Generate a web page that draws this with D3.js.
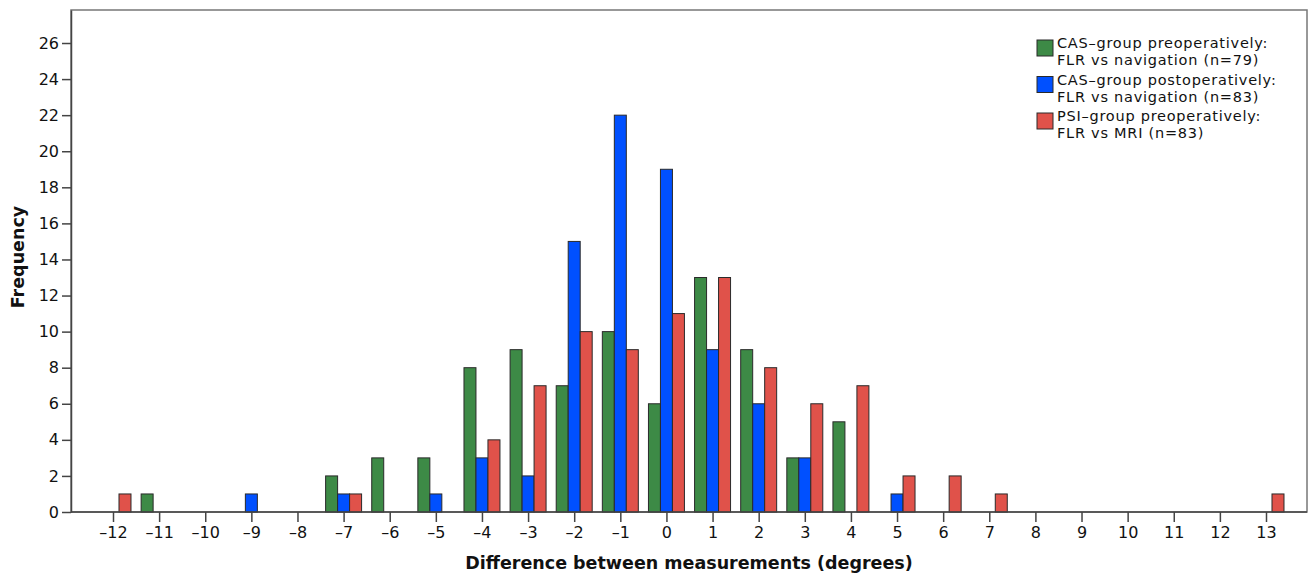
<!DOCTYPE html>
<html>
<head>
<meta charset="utf-8">
<script src="https://cdn.jsdelivr.net/npm/d3@7"></script>
<style>
html,body{margin:0;padding:0;background:#fff;}
svg{display:block;}
text{font-family:"DejaVu Sans",sans-serif;fill:#111;}
</style>
</head>
<body>
<svg id="chart" width="1309" height="575"></svg>
<script>
const categories = [-12,-11,-10,-9,-8,-7,-6,-5,-4,-3,-2,-1,0,1,2,3,4,5,6,7,8,9,10,11,12,13];
const casPre  = [0,1,0,0,0,2,3,3,8,9,7,10,6,13,9,3,5,0,0,0,0,0,0,0,0,0];
const casPost = [0,0,0,1,0,1,0,1,3,2,15,22,19,9,6,3,0,1,0,0,0,0,0,0,0,0];
const psiPre  = [1,0,0,0,0,1,0,0,4,7,10,9,11,13,8,6,7,2,2,1,0,0,0,0,0,1];
const yTicks = [0,2,4,6,8,10,12,14,16,18,20,22,24,26];
const seriesNames = ["CAS–group preoperatively:|FLR vs navigation (n=79)",
                     "CAS–group postoperatively:|FLR vs navigation (n=83)",
                     "PSI–group preoperatively:|FLR vs MRI (n=83)"];
const seriesColors = ["#3d8a46","#0050ff","#e0524a"];
const seriesValues = [casPre, casPost, psiPre];

const svg = d3.select("#chart");
const L = 71, R = 1307, T = 10, B = 512;

const x = d3.scaleLinear().domain([-12, 13]).range([113, 1266]);
const y = d3.scaleLinear().domain([0, 27.83]).range([B, T]);
const step = x(1) - x(0);
const sub = d3.scaleBand().domain([0,1,2]).range([-step*0.39, step*0.39]);

// frame
svg.append("rect").attr("x", L).attr("y", T).attr("width", R-L).attr("height", B-T)
  .attr("fill", "none").attr("stroke", "#777").attr("stroke-width", 1.5);

// bars
seriesValues.forEach((vals, si) => {
  svg.append("g").selectAll("rect")
    .data(categories.map((c,i)=>({c, v: vals[i]})).filter(d=>d.v>0))
    .join("rect")
    .attr("x", d => x(d.c) + sub(si))
    .attr("y", d => y(d.v))
    .attr("width", sub.bandwidth())
    .attr("height", d => B - y(d.v))
    .attr("fill", seriesColors[si])
    .attr("stroke", "#2a2a2a")
    .attr("stroke-width", 1);
});

// y axis
const yAxis = d3.axisLeft(y).tickValues(yTicks).tickSize(9).tickSizeOuter(0).tickPadding(3);
const gy = svg.append("g").attr("transform", `translate(${L},0)`).call(yAxis);
gy.select(".domain").attr("stroke", "#444").attr("stroke-width", 1.5);
gy.selectAll(".tick line").attr("stroke", "#444").attr("stroke-width", 1.5);
gy.selectAll(".tick text").style("font-family", "DejaVu Sans").style("font-size", "16px").attr("fill", "#111");

// x axis
const xAxis = d3.axisBottom(x).tickValues(categories).tickSize(10).tickSizeOuter(0).tickPadding(5)
  .tickFormat(d => d < 0 ? "–" + Math.abs(d) : String(d));
const gx = svg.append("g").attr("transform", `translate(0,${B})`).call(xAxis);
gx.select(".domain").remove();
svg.append("line").attr("x1", L).attr("x2", R).attr("y1", B).attr("y2", B)
  .attr("stroke", "#444").attr("stroke-width", 1.5);
gx.selectAll(".tick line").attr("stroke", "#444").attr("stroke-width", 1.5);
gx.selectAll(".tick text").style("font-family", "DejaVu Sans").style("font-size", "16px").attr("fill", "#111");

// titles
svg.append("text").attr("x", 689).attr("y", 569).attr("text-anchor", "middle")
  .style("font-size", "17.5px").style("font-weight", "bold").text("Difference between measurements (degrees)");
svg.append("text").attr("transform", "translate(24,257) rotate(-90)").attr("text-anchor", "middle")
  .style("font-size", "17.5px").style("font-weight", "bold").text("Frequency");

// legend
const lg = svg.append("g");
seriesNames.forEach((name, i) => {
  const by = 48 + i * 36.5;
  lg.append("rect").attr("x", 1037).attr("y", by - 8).attr("width", 16).attr("height", 16)
    .attr("fill", seriesColors[i]).attr("stroke", "#2a2a2a").attr("stroke-width", 1);
  name.split("|").forEach((line, j) => {
    lg.append("text").attr("x", 1057).attr("y", by + j * 17)
      .style("font-size", "14.5px").style("letter-spacing", "0.75px").text(line);
  });
});
</script>
</body>
</html>
